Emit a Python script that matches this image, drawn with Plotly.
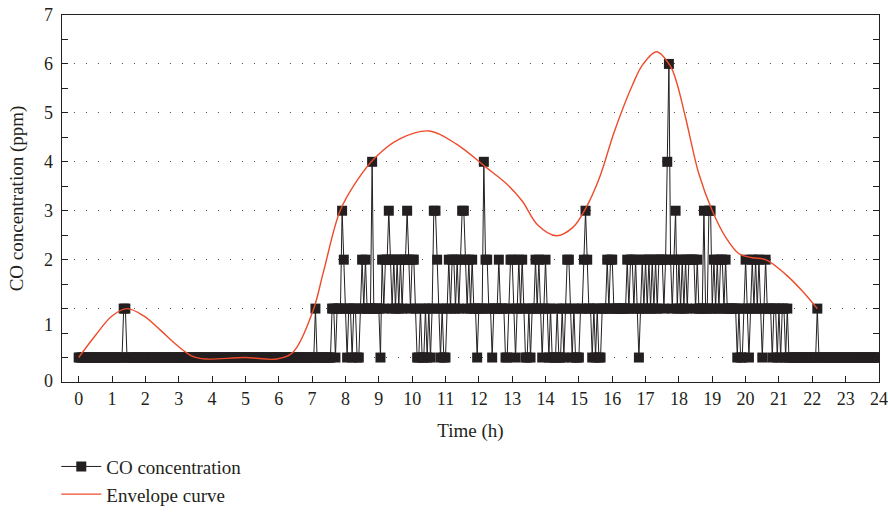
import plotly.graph_objects as go

# ---------------- data ----------------
# CO concentration (ppm), one string per hour, one digit per 3-minute sample
sample_minutes = 3
co_by_hour = [
    "00000000000000000000",  # 0 h
    "00000001100000000000",  # 1 h
    "00000000000000000000",  # 2 h
    "00000000000000000000",  # 3 h
    "00000000000000000000",  # 4 h
    "00000000000000000000",  # 5 h
    "00000000000000000000",  # 6 h
    "00100000000011011132",  # 7 h
    "10110110012121114111",  # 8 h
    "10212232121212122321",  # 9 h
    "22100100101013321010",  # 10 h
    "01212212123321212110",  # 11 h
    "11142211011121110012",  # 12 h
    "21012121001011212101",  # 13 h
    "21010001001012210100",  # 14 h
    "01123211010100111212",  # 15 h
    "21111111121221210121",  # 16 h
    "21212121222124621231",  # 17 h
    "21212122221211131133",  # 18 h
    "12121221211111101001",  # 19 h
    "21012121210121110110",  # 20 h
    "10110100000000000000",  # 21 h
    "00010000000000000000",  # 22 h
    "00000000000000000000",  # 23 h
]
co_final = 0  # value at 24 h

# Envelope curve control points (h, ppm)
env_h = [0, 0.5, 1.0, 1.45, 1.95, 2.45, 2.95, 3.4, 3.8, 5.0, 5.94, 6.43, 7.03,
         7.34, 7.84, 8.34, 8.88, 9.63, 10.52, 11.33, 12.23, 12.83, 13.3, 13.75,
         14.32, 14.82, 15.22, 15.62, 16.07, 16.62, 16.92, 17.33, 17.74, 17.92,
         18.2, 18.6, 19.0, 19.4, 19.8, 20.2, 20.6, 21.2, 21.7, 22.15]
env_v = [0, 0.45, 0.85, 1.0, 0.85, 0.56, 0.25, 0.03, -0.03, 0.0, -0.03, 0.11, 0.96,
         1.75, 3.0, 3.61, 4.08, 4.47, 4.63, 4.36, 3.88, 3.55, 3.2, 2.72,
         2.49, 2.66, 3.07, 3.68, 4.63, 5.59, 5.99, 6.25, 5.96, 5.65,
         4.9, 3.75, 3.0, 2.46, 2.12, 2.04, 2.0, 1.7, 1.36, 1.0]

x_ticks = list(range(0, 25))
y_label_vals = [-0.47, 0.68, 2, 3, 4, 5, 6, 7]
y_label_text = ["0", "1", "2", "3", "4", "5", "6", "7"]

# ---------------- build series ----------------
co_t, co_v = [], []
per_hour = 60 // sample_minutes
for h, s in enumerate(co_by_hour):
    for k, ch in enumerate(s):
        co_t.append(h + k / per_hour)
        co_v.append(int(ch))
co_t.append(24)
co_v.append(co_final)

DARK = "#231f20"
FONT = "Liberation Serif"

fig = go.Figure()
fig.add_trace(go.Scatter(
    x=co_t, y=co_v, mode="lines+markers", name="CO concentration",
    line=dict(color=DARK, width=1),
    marker=dict(symbol="square", size=10, color=DARK, line=dict(width=0)),
    yaxis="y",
))
fig.add_trace(go.Scatter(
    x=env_h, y=env_v, mode="lines", name="Envelope curve",
    line=dict(color="#ee4b2b", width=1.4, shape="spline", smoothing=1.0),
    yaxis="y2",
))

yr = [-0.5, 7]
fig.update_layout(
    width=888, height=513,
    margin=dict(l=62, r=9, t=15, b=131, autoexpand=False),
    paper_bgcolor="white", plot_bgcolor="white",
    font=dict(family=FONT, size=18, color=DARK),
    showlegend=True,
    legend=dict(x=-0.007, y=-0.3586, xanchor="left", yanchor="bottom",
                itemwidth=40,
                font=dict(family=FONT, size=19, color=DARK),
                bgcolor="rgba(0,0,0,0)", tracegroupgap=0),
    xaxis=dict(
        range=[-0.5, 24], tickmode="array", tickvals=x_ticks,
        ticks="inside", ticklen=6, tickcolor=DARK, tickwidth=1,
        showline=True, linecolor=DARK, linewidth=1.3, mirror=True,
        showgrid=False, zeroline=False, automargin=False,
        tickfont=dict(family=FONT, size=18, color=DARK),
        title=dict(text="Time (h)", font=dict(family=FONT, size=19, color=DARK), standoff=15),
    ),
    yaxis=dict(
        range=yr, tickmode="array", tickvals=[0, 1, 2, 3, 4, 5, 6, 7],
        ticks="inside", ticklen=6, tickcolor=DARK, tickwidth=1,
        showticklabels=False, automargin=False,
        minor=dict(dtick=0.5, tick0=0, ticks="inside", ticklen=6,
                   tickcolor=DARK, tickwidth=1, showgrid=False),
        showline=True, linecolor=DARK, linewidth=1.3, mirror="allticks",
        showgrid=True, gridcolor="#555555", gridwidth=1, griddash="1px,11px",
        zeroline=False,
    ),
    yaxis2=dict(
        range=yr, overlaying="y", side="left",
        tickmode="array", tickvals=y_label_vals, ticktext=y_label_text,
        ticks="", showline=False, showgrid=False, zeroline=False,
        ticklabelstandoff=8, automargin=False,
        tickfont=dict(family=FONT, size=18, color=DARK),
        title=dict(text="CO concentration (ppm)", font=dict(family=FONT, size=19, color=DARK), standoff=15),
    ),
)

fig.write_html("out.html")
